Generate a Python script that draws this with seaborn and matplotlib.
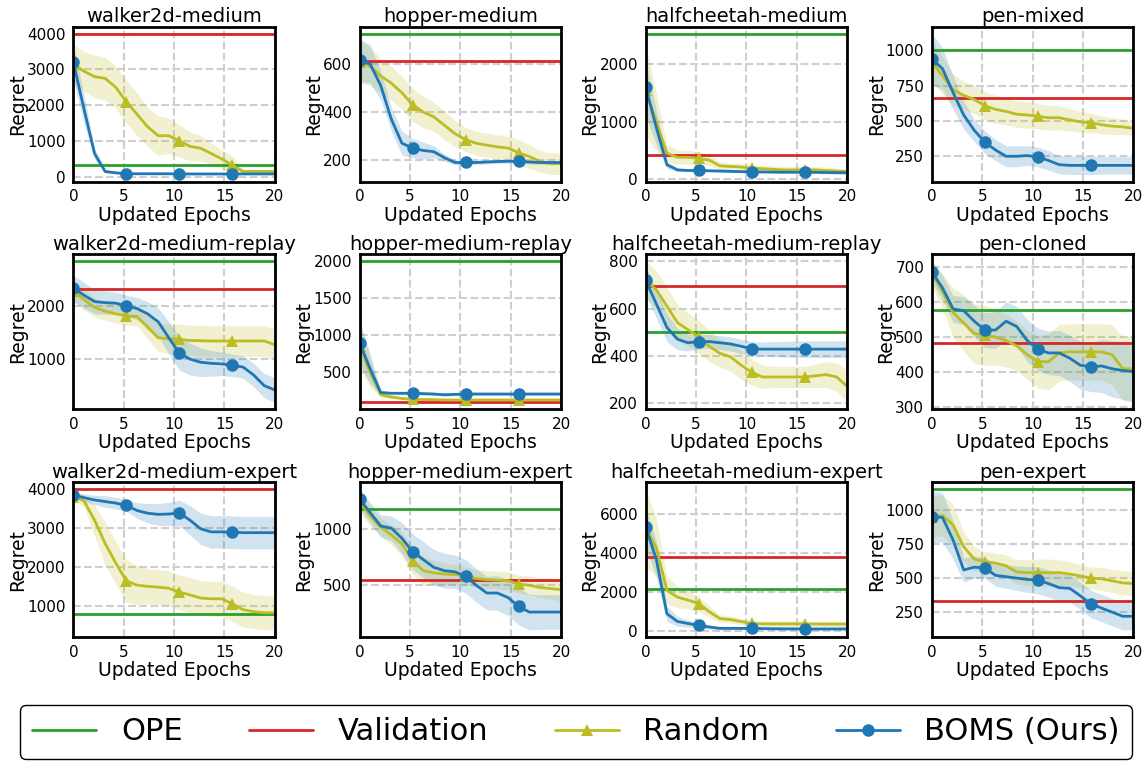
import numpy as np
import pandas as pd
import matplotlib.pyplot as plt
import seaborn as sns

titles = ['walker2d-medium', 'hopper-medium', 'halfcheetah-medium', 'pen-mixed',
          'walker2d-medium-replay', 'hopper-medium-replay', 'halfcheetah-medium-replay', 'pen-cloned',
          'walker2d-medium-expert', 'hopper-medium-expert', 'halfcheetah-medium-expert', 'pen-expert']

# 20 evaluation points over the 20 updated epochs
epochs = np.linspace(0, 20, 20)

ope = [320, 726, 2530, 1000, 2835, 1990, 500, 577, 780, 1183, 2180, 1153]
validation = [4000, 614, 413, 664, 2320, 100, 694, 484, 4000, 545, 3810, 333]

rand_mean = [
    [3150, 2950, 2800, 2750, 2500, 2100, 1750, 1400, 1150, 1150, 1000, 850, 800, 650, 500, 320, 150, 150, 150, 150],
    [610, 590, 550, 520, 480, 430, 400, 380, 345, 310, 285, 270, 262, 255, 250, 230, 215, 195, 185, 185],
    [1550, 1000, 450, 380, 380, 360, 330, 230, 220, 210, 190, 180, 170, 160, 160, 160, 160, 150, 140, 130],
    [920, 820, 720, 680, 650, 605, 580, 565, 545, 540, 530, 520, 520, 505, 490, 485, 470, 460, 455, 445],
    [2280, 2120, 1970, 1900, 1850, 1810, 1800, 1600, 1400, 1380, 1370, 1350, 1345, 1340, 1340, 1340, 1340, 1340, 1340, 1270],
    [850, 500, 200, 170, 150, 140, 135, 135, 130, 130, 130, 130, 130, 130, 130, 130, 130, 130, 130, 130],
    [720, 680, 610, 540, 510, 480, 440, 410, 395, 360, 330, 310, 310, 310, 310, 310, 315, 320, 310, 270],
    [680, 630, 570, 540, 510, 505, 500, 490, 475, 450, 430, 430, 455, 458, 458, 458, 458, 450, 410, 410],
    [3800, 3700, 3200, 2600, 2100, 1640, 1530, 1500, 1480, 1450, 1350, 1280, 1200, 1180, 1180, 1050, 900, 850, 820, 820],
    [1250, 1120, 1020, 950, 870, 720, 630, 610, 600, 595, 585, 560, 550, 545, 540, 510, 500, 480, 470, 460],
    [5300, 4300, 2100, 1750, 1600, 1420, 1000, 650, 600, 500, 400, 380, 380, 380, 380, 380, 370, 370, 370, 370],
    [950, 960, 890, 730, 640, 620, 610, 590, 545, 540, 540, 540, 540, 530, 515, 500, 495, 480, 465, 460],
]
rand_std = [
    [550, 550, 600, 600, 600, 600, 600, 550, 550, 500, 450, 400, 350, 300, 250, 250, 50, 50, 50, 50],
    [90, 80, 70, 70, 70, 70, 65, 60, 60, 55, 50, 50, 50, 50, 50, 55, 50, 45, 45, 45],
    [800, 500, 150, 120, 120, 120, 100, 70, 60, 60, 60, 60, 60, 60, 60, 60, 60, 60, 50, 50],
    [150, 130, 110, 100, 100, 100, 100, 95, 95, 95, 90, 90, 85, 80, 75, 70, 65, 60, 55, 50],
    [200, 200, 180, 170, 170, 170, 180, 220, 260, 280, 290, 290, 290, 290, 290, 290, 290, 290, 290, 290],
    [300, 200, 30, 25, 20, 20, 20, 20, 20, 20, 20, 20, 20, 20, 20, 20, 20, 20, 20, 20],
    [80, 80, 80, 75, 70, 70, 65, 60, 60, 60, 55, 50, 45, 45, 45, 45, 50, 55, 60, 67],
    [35, 50, 70, 80, 85, 85, 80, 75, 70, 70, 75, 80, 80, 80, 80, 80, 80, 85, 90, 95],
    [100, 150, 400, 550, 550, 550, 500, 450, 450, 450, 450, 450, 450, 450, 450, 450, 450, 440, 440, 440],
    [100, 90, 80, 90, 110, 120, 130, 110, 100, 90, 80, 80, 80, 80, 80, 80, 85, 90, 95, 100],
    [2000, 1500, 700, 550, 450, 400, 300, 200, 180, 160, 150, 150, 150, 150, 150, 150, 150, 150, 150, 150],
    [150, 150, 150, 110, 90, 75, 75, 80, 90, 95, 100, 100, 95, 90, 85, 80, 85, 85, 90, 90],
]
boms_mean = [
    [3200, 1900, 650, 150, 110, 90, 85, 85, 85, 85, 80, 80, 80, 80, 80, 80, 80, 80, 80, 80],
    [615, 600, 510, 370, 270, 250, 240, 235, 210, 190, 190, 190, 192, 194, 195, 195, 192, 190, 190, 190],
    [1600, 900, 250, 160, 150, 150, 145, 140, 135, 130, 125, 125, 122, 120, 120, 120, 118, 115, 112, 110],
    [940, 870, 700, 540, 430, 345, 290, 245, 245, 250, 240, 215, 185, 180, 180, 180, 180, 180, 180, 180],
    [2330, 2200, 2080, 2060, 2050, 2000, 1950, 1850, 1700, 1400, 1110, 1000, 940, 920, 910, 880, 850, 700, 500, 420],
    [900, 550, 230, 220, 220, 220, 215, 210, 200, 205, 210, 210, 210, 210, 210, 210, 210, 210, 210, 210],
    [720, 620, 520, 470, 455, 460, 460, 455, 450, 440, 430, 428, 428, 428, 428, 428, 428, 428, 428, 428],
    [685, 640, 580, 575, 545, 520, 520, 545, 530, 490, 465, 455, 455, 440, 420, 415, 418, 410, 405, 402],
    [3850, 3780, 3720, 3680, 3640, 3580, 3450, 3380, 3350, 3360, 3380, 3200, 2980, 2900, 2900, 2890, 2880, 2880, 2880, 2880],
    [1270, 1150, 1030, 1010, 920, 800, 730, 660, 630, 620, 580, 500, 430, 430, 390, 310, 260, 260, 260, 260],
    [5350, 3700, 900, 500, 400, 300, 220, 150, 150, 150, 150, 140, 130, 125, 125, 120, 120, 120, 120, 120],
    [950, 945, 780, 560, 580, 575, 520, 510, 500, 490, 485, 460, 430, 425, 370, 310, 280, 250, 220, 220],
]
boms_std = [
    [500, 400, 150, 50, 20, 15, 15, 15, 15, 15, 15, 15, 15, 15, 15, 15, 15, 15, 15, 15],
    [90, 80, 60, 50, 50, 40, 35, 25, 15, 10, 8, 8, 8, 8, 8, 8, 8, 8, 8, 8],
    [500, 300, 60, 30, 20, 20, 20, 20, 20, 20, 20, 20, 20, 20, 20, 20, 20, 20, 20, 20],
    [180, 150, 120, 100, 80, 80, 75, 75, 75, 70, 70, 70, 65, 65, 65, 65, 62, 62, 62, 62],
    [250, 240, 230, 220, 210, 200, 210, 230, 260, 300, 320, 300, 270, 240, 220, 210, 210, 220, 230, 230],
    [300, 200, 25, 20, 20, 20, 20, 20, 20, 20, 20, 20, 20, 20, 20, 20, 20, 20, 20, 20],
    [60, 60, 60, 45, 35, 30, 30, 30, 30, 30, 30, 30, 32, 33, 34, 35, 35, 35, 35, 35],
    [30, 35, 38, 40, 45, 50, 52, 55, 58, 60, 60, 62, 64, 66, 68, 70, 75, 80, 82, 85],
    [80, 100, 120, 150, 150, 150, 200, 250, 280, 300, 330, 380, 400, 420, 420, 420, 420, 420, 420, 420],
    [90, 90, 100, 110, 140, 160, 160, 160, 155, 150, 150, 150, 150, 155, 160, 165, 160, 155, 155, 155],
    [1000, 900, 400, 250, 180, 150, 100, 80, 70, 60, 60, 55, 55, 50, 50, 50, 50, 50, 50, 50],
    [190, 180, 140, 90, 80, 75, 80, 85, 90, 95, 100, 100, 100, 100, 100, 100, 100, 100, 100, 100],
]

GREEN = '#2ca02c'
RED = '#d62728'
OLIVE = '#bcbd22'
BLUE = '#1f77b4'

sns.set_style('whitegrid', {'grid.linestyle': '--', 'grid.color': '#cfcfcf',
                            'axes.edgecolor': 'black', 'text.color': 'black',
                            'axes.labelcolor': 'black', 'xtick.color': 'black',
                            'ytick.color': 'black'})
plt.rcParams['font.family'] = ['DejaVu Sans']

fig, axes = plt.subplots(3, 4, figsize=(11.46, 7.61), dpi=100)
fig.subplots_adjust(left=0.064, right=0.989, top=0.965, bottom=0.163, wspace=0.42, hspace=0.47)

for i, ax in enumerate(axes.flat):
    ax.axhline(ope[i], color=GREEN, lw=2)
    ax.axhline(validation[i], color=RED, lw=2)
    series = [(rand_mean[i], rand_std[i], OLIVE, '^'), (boms_mean[i], boms_std[i], BLUE, 'o')]
    for mean, std, color, marker in series:
        df = pd.DataFrame({'epoch': epochs, 'regret': mean, 'std': std})
        ax.fill_between(df['epoch'], df['regret'] - df['std'], df['regret'] + df['std'],
                        color=color, alpha=0.2, lw=0)
        sns.lineplot(data=df, x='epoch', y='regret', ax=ax, color=color, lw=2,
                     marker=marker, markevery=5, markersize=9, markeredgewidth=0)
    ax.set_xlim(0, 20)
    ax.set_xticks([0, 5, 10, 15, 20])
    ax.set_title(titles[i], fontsize=14, pad=3, color='black')
    ax.set_xlabel('Updated Epochs', fontsize=13.5, labelpad=1)
    ax.set_ylabel('Regret', fontsize=13.5, labelpad=0)
    ax.tick_params(labelsize=11, pad=2, colors='black')
    ax.grid(True, lw=1.5)
    for sp in ax.spines.values():
        sp.set_linewidth(2)
        sp.set_color('black')

lines = axes[0, 0].get_lines()
fig.legend(lines[:4], ['OPE', 'Validation', 'Random', 'BOMS (Ours)'],
           loc='center', bbox_to_anchor=(20 / 1146, 1 / 761, 1112 / 1146, 56 / 761),
           mode='expand', ncol=4, fontsize=22, frameon=True, edgecolor='black',
           framealpha=1, borderpad=0.4, borderaxespad=0, handlelength=2.1,
           labelcolor='black')

plt.savefig('out.png', dpi=100)
